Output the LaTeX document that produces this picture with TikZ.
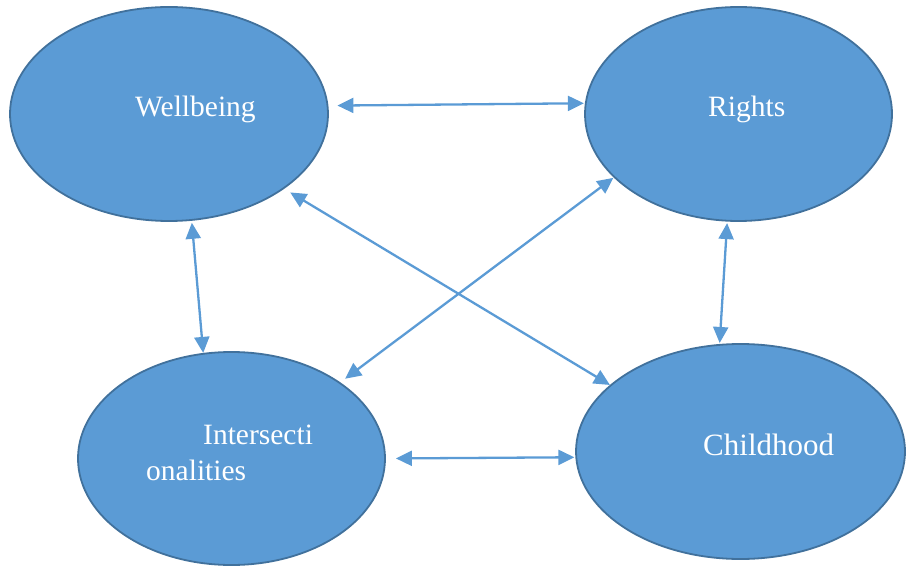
\documentclass[tikz,border=0pt]{standalone}
\usepackage{fontspec}
\setmainfont{Liberation Serif}
\usetikzlibrary{shapes.geometric,arrows.meta}
\definecolor{ellfill}{HTML}{5B9BD5}
\definecolor{elldraw}{HTML}{41719C}
\definecolor{arrowcol}{HTML}{5B9BD5}
\tikzset{
  bubble/.style={ellipse, fill=ellfill, draw=elldraw, line width=1.8pt, inner sep=0pt},
  lbl/.style={text=white, font=\fontsize{29.5}{34}\selectfont, inner sep=0pt, anchor=base west},
  link/.style={draw=arrowcol, line width=2.3pt, {Triangle[length=16pt,width=15pt]}-{Triangle[length=16pt,width=15pt]}}
}
\begin{document}
\begin{tikzpicture}[x=1pt,y=-1pt]
\useasboundingbox (0,0) rectangle (917,569);
\node[bubble, minimum width=318pt, minimum height=214pt] (wb) at (169,114) {};
\node[bubble, minimum width=307pt, minimum height=214pt] (rt) at (738.5,114) {};
\node[bubble, minimum width=307pt, minimum height=213pt] (in) at (231.5,458.5) {};
\node[bubble, minimum width=329pt, minimum height=215pt] (ch) at (740.5,451.5) {};
\node[lbl] (twb) at (135,117) {Wellbeing};
\node[lbl] (trt) at (708,117) {Rights};
\node[lbl] (tin1) at (203,444) {Intersecti};
\node[lbl] (tin2) at (146,480) {onalities};
\node[lbl, font=\fontsize{31}{36}\selectfont] (tch) at (703,455) {Childhood};
\draw[link, shorten <=9pt, shorten >=1pt] (wb.3.5) -- (rt.176.2);
\draw[link, shorten <=2pt, shorten >=0pt] (wb.-78.5) -- (in.105.9);
\draw[link, shorten <=1.5pt, shorten >=1pt] (rt.-96.1) -- (ch.101.3);
\draw[link, shorten <=10pt, shorten >=1pt] (in.0.5) -- (ch.182.2);
\draw[link, shorten <=7pt, shorten >=0pt] (wb.-33.6) -- (ch.153.2);
\draw[link, shorten <=0.5pt, shorten >=6pt] (rt.207.9) -- (in.35.8);
\end{tikzpicture}
\end{document}
